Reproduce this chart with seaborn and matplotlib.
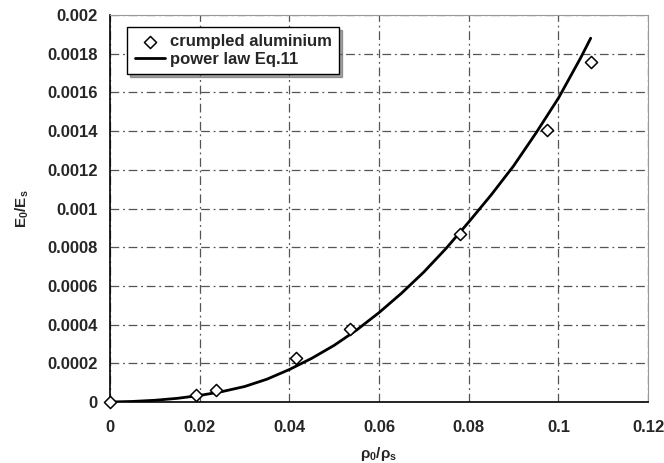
import matplotlib
matplotlib.use("Agg")
import matplotlib.pyplot as plt
import seaborn as sns
import pandas as pd

# measured points
rho_meas = [0.0, 0.0192, 0.0236, 0.0415, 0.0535, 0.0781, 0.0974, 0.1072]
e_meas = [0.0, 0.000036, 0.000062, 0.000227, 0.000377, 0.000868, 0.001405, 0.001759]

# power law curve
rho_fit = [0.0, 0.005, 0.01, 0.015, 0.02, 0.025, 0.03, 0.035, 0.04, 0.045, 0.05,
           0.055, 0.06, 0.065, 0.07, 0.075, 0.08, 0.085, 0.09, 0.095, 0.1, 0.105, 0.1072]
e_fit = [0.0, 0.000003, 0.000009, 0.000019, 0.000034, 0.000054, 0.00008, 0.000118,
         0.000168, 0.000226, 0.000293, 0.000372, 0.000462, 0.000562, 0.000672,
         0.000795, 0.00093, 0.00107, 0.00122, 0.00139, 0.00157, 0.00178, 0.00188]

x_ticks = [0, 0.02, 0.04, 0.06, 0.08, 0.1, 0.12]
x_labels = ["0", "0.02", "0.04", "0.06", "0.08", "0.1", "0.12"]
y_ticks = [0, 0.0002, 0.0004, 0.0006, 0.0008, 0.001, 0.0012, 0.0014, 0.0016, 0.0018, 0.002]
y_labels = ["0", "0.0002", "0.0004", "0.0006", "0.0008", "0.001", "0.0012",
            "0.0014", "0.0016", "0.0018", "0.002"]

sns.set_style("white")
plt.rcParams["font.family"] = ["Liberation Sans", "DejaVu Sans"]
plt.rcParams["font.weight"] = "bold"
plt.rcParams["mathtext.fontset"] = "custom"
plt.rcParams["mathtext.rm"] = "Liberation Sans:bold"
plt.rcParams["mathtext.default"] = "rm"

meas = pd.DataFrame({"rho": rho_meas, "E": e_meas})
fit = pd.DataFrame({"rho": rho_fit, "E": e_fit})

fig = plt.figure(figsize=(6.64, 4.63), dpi=100)
ax = fig.add_axes([0.1657, 0.1317, 0.8103, 0.8359])

sns.lineplot(data=fit, x="rho", y="E", ax=ax, color="black", linewidth=2,
             label="power law Eq.11", zorder=3)
sns.scatterplot(data=meas, x="rho", y="E", ax=ax, marker="D", s=38,
                facecolor="white", edgecolor="black", linewidth=1.1,
                label="crumpled aluminium", zorder=4, clip_on=False)

ax.set_xlim(0, 0.12)
ax.set_ylim(0, 0.002)
ax.set_xticks(x_ticks)
ax.set_xticklabels(x_labels)
ax.set_yticks(y_ticks)
ax.set_yticklabels(y_labels)
ax.tick_params(axis="both", labelsize=12, direction="out", length=5, width=1,
               color="black", pad=4)
ax.tick_params(axis="x", pad=8)
for lab in ax.get_xticklabels() + ax.get_yticklabels():
    lab.set_fontweight("bold")

ax.grid(True, color="#555555", linewidth=0.9, linestyle=(0, (7, 3, 1.5, 3)))
ax.spines["left"].set_color("black")
ax.spines["bottom"].set_color("black")
ax.spines["left"].set_linewidth(1.2)
ax.spines["bottom"].set_linewidth(1.2)
ax.spines["top"].set_color("#999999")
ax.spines["right"].set_color("#999999")

ax.set_xlabel("ρ$_0$/ρ$_s$", fontsize=11, fontweight="bold")
ax.xaxis.set_label_coords(0.5, -0.112)
ax.set_ylabel("E$_0$/E$_s$", fontsize=11, fontweight="bold")
ax.yaxis.set_label_coords(-0.147, 0.5)

handles, labels = ax.get_legend_handles_labels()
order = [labels.index("crumpled aluminium"), labels.index("power law Eq.11")]
leg = ax.legend([handles[i] for i in order], [labels[i] for i in order],
                loc="upper left", bbox_to_anchor=(0.0316, 0.969), fontsize=12,
                frameon=True, fancybox=False, shadow=True, edgecolor="black",
                framealpha=1, borderpad=0.45, handlelength=1.8, handletextpad=0.3,
                labelspacing=0.15, borderaxespad=0)
leg.get_frame().set_linewidth(1.0)
for t in leg.get_texts():
    t.set_fontweight("bold")

fig.savefig("out.png", dpi=100)
